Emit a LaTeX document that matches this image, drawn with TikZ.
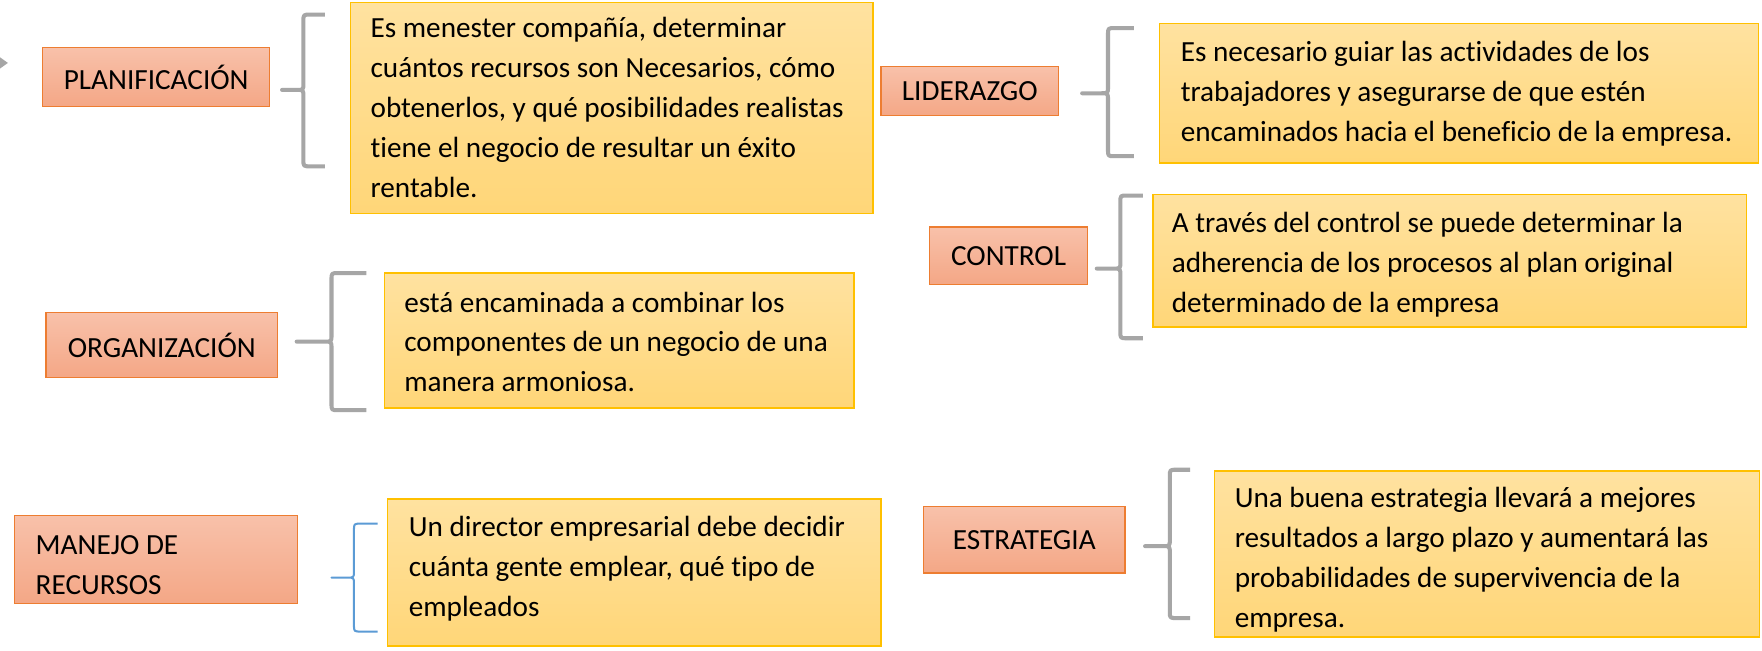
\documentclass[tikz,border=0pt]{standalone}
\usepackage{fontspec}
\setmainfont{Carlito}[Ligatures=NoCommon]
\usetikzlibrary{calc}
\definecolor{obord}{RGB}{237,125,49}
\definecolor{otop}{RGB}{248,193,170}
\definecolor{obot}{RGB}{244,167,134}
\definecolor{ybord}{RGB}{255,192,0}
\definecolor{ytop}{RGB}{255,226,160}
\definecolor{ybot}{RGB}{255,214,120}
\definecolor{bgray}{RGB}{166,166,166}
\definecolor{bblue}{RGB}{91,155,213}
% style, tipx, linex, endx, top, tip, bottom
\newcommand\officebrace[7]{%
 \draw[#1] (#4,#5) -- ({#3+6},#5) .. controls (#3,#5) .. (#3,{#5+6}) -- (#3,{#6-6})
   .. controls (#3,#6) .. ({#3-6},#6) -- (#2,#6) -- ({#3-6},#6)
   .. controls (#3,#6) .. (#3,{#6+6}) -- (#3,{#7-6}) .. controls (#3,#7) .. ({#3+6},#7) -- (#4,#7);}
\begin{document}
\begin{tikzpicture}[x=0.5pt,y=-0.5pt,
 obox/.style={draw=obord, line width=0.6pt, top color=otop, bottom color=obot, inner sep=0pt, font=\fontsize{13}{17}\selectfont},
 ybox/.style={draw=ybord, line width=0.6pt, top color=ytop, bottom color=ybot, inner sep=0pt},
 ytext/.style={anchor=north west, inner sep=0pt, align=left, font=\fontsize{13}{17.75}\selectfont},
 gbrace/.style={draw=bgray, line width=1.8pt, line join=round},
 bbrace/.style={draw=bblue, line width=0.9pt, line join=round},
]
\useasboundingbox (0,0) rectangle (1568,579);
\fill[white] (0,0) rectangle (1568,579);

% left arrow tip
\fill[bgray] (0,51) -- (7,56) -- (0,61) -- cycle;

% orange boxes
\node[obox, minimum width=101pt, minimum height=26.5pt] (plan) at (139,68.5) {PLANIFICACIÓN};
\node[obox, minimum width=79pt, minimum height=22pt] (lid) at (863,81) {LIDERAZGO};
\node[obox, minimum width=70.5pt, minimum height=25.5pt] (ctrl) at (897.5,227.5) {CONTROL};
\node[obox, minimum width=103pt, minimum height=29pt] (org) at (144,307) {ORGANIZACIÓN};
\node[obox, minimum width=126pt, minimum height=39pt] (man) at (139,498) {};
\node[ytext, anchor=west] (mant) at ($(man.west)+(19,5)$) {MANEJO DE\\RECURSOS};
\node[obox, minimum width=89.5pt, minimum height=29.5pt] (est) at (911.5,480.5) {ESTRATEGIA};

% yellow boxes
\node[ybox, minimum width=232.5pt, minimum height=94pt] (d1) at (544.5,96) {};
\node[ybox, minimum width=266.5pt, minimum height=62pt] (d2) at (1298.5,83) {};
\node[ybox, minimum width=264pt, minimum height=59pt] (d3) at (1290,232) {};
\node[ybox, minimum width=209pt, minimum height=60pt] (d4) at (551,303) {};
\node[ybox, minimum width=219.5pt, minimum height=65.5pt] (d5) at (564.5,509.5) {};
\node[ybox, minimum width=242.5pt, minimum height=74pt] (d6) at (1323.5,493) {};

\node[ytext] (t1) at ($(d1.north west)+(18,7)$) {\strut Es menester compañía, determinar\\cuántos recursos son Necesarios, cómo\\obtenerlos, y qué posibilidades realistas\\tiene el negocio de resultar un éxito\\rentable.};
\node[ytext] (t2) at ($(d2.north west)+(19,9)$) {\strut Es necesario guiar las actividades de los\\trabajadores y asegurarse de que estén\\encaminados hacia el beneficio de la empresa.};
\node[ytext] (t3) at ($(d3.north west)+(17,9)$) {\strut A través del control se puede determinar la\\adherencia de los procesos al plan original\\determinado de la empresa};
\node[ytext] (t4) at ($(d4.north west)+(18,10)$) {\strut está encaminada a combinar los\\componentes de un negocio de una\\manera armoniosa.};
\node[ytext] (t5) at ($(d5.north west)+(19,9)$) {\strut Un director empresarial debe decidir\\cuánta gente emplear, qué tipo de\\empleados};
\node[ytext] (t6) at ($(d6.north west)+(18,8)$) {\strut Una buena estrategia llevará a mejores\\resultados a largo plazo y aumentará las\\probabilidades de supervivencia de la\\empresa.};

% braces
\officebrace{gbrace}{251}{270}{289}{13}{80}{148}
\officebrace{gbrace}{963}{986}{1009}{25}{83}{139}
\officebrace{gbrace}{976}{997}{1017}{174}{239}{301}
\officebrace{gbrace}{264}{295}{326}{243}{304}{365}
\officebrace{bbrace}{295}{315}{336}{466}{514}{562}
\officebrace{gbrace}{1019}{1041}{1059}{418}{486}{550}
\end{tikzpicture}
\end{document}
